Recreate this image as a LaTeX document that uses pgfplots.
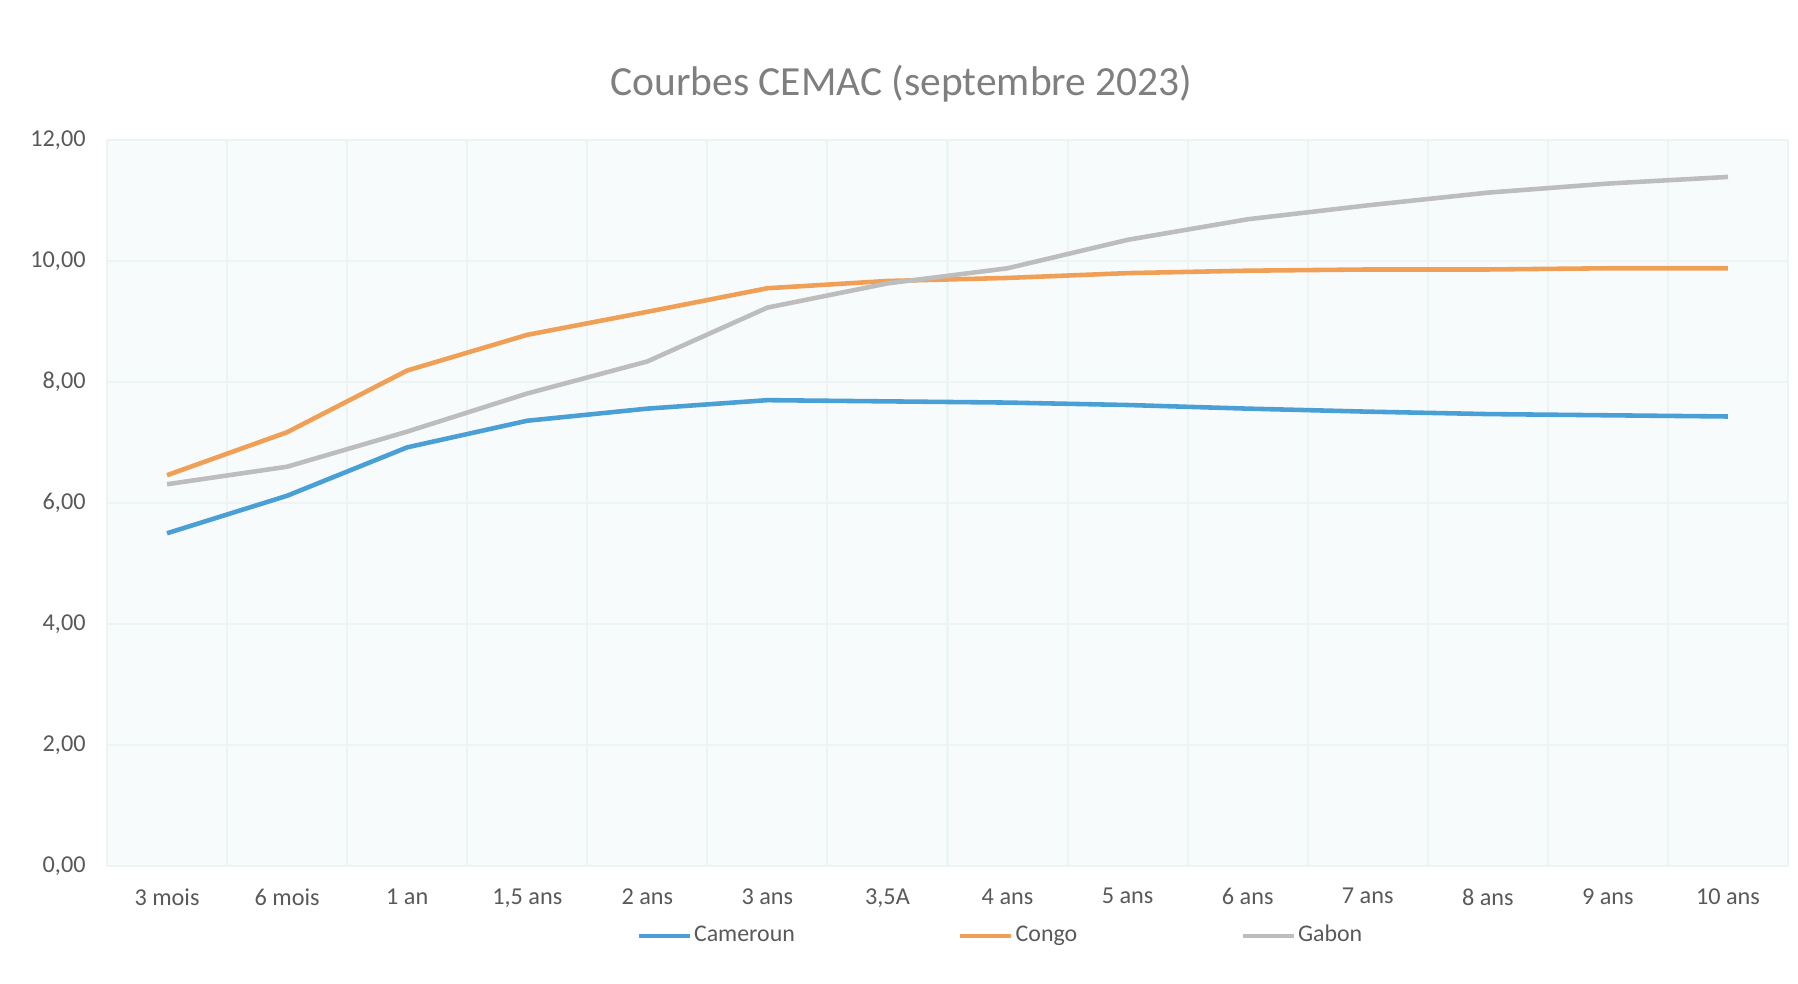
\documentclass[border=0pt]{standalone}
\usepackage{pgfplots}
\pgfplotsset{compat=1.18}
\usepackage{fontspec}
\setmainfont{Carlito}
\definecolor{cblue}{HTML}{4A9FD5}
\definecolor{corange}{HTML}{EFA056}
\definecolor{cgray}{HTML}{BDBDBD}
\definecolor{txtgray}{HTML}{595959}
\definecolor{titlegray}{HTML}{7F7F7F}
\definecolor{gridc}{HTML}{EDF4F4}
\definecolor{bgc}{HTML}{F8FBFB}
\begin{document}
\begin{tikzpicture}
\begin{axis}[
  name=ax,
  scale only axis,
  width=168.1mm, height=72.6mm,
  xmin=-0.5, xmax=13.5,
  ymin=0, ymax=12,
  xtick={0,...,13},
  xticklabels={3 mois,6 mois,1 an,{1,5 ans},2 ans,3 ans,{3,5A},4 ans,5 ans,6 ans,7 ans,8 ans,9 ans,10 ans},
  minor xtick={-0.5,0.5,...,13.5},
  ytick={0,2,...,12},
  yticklabels={{0,00},{2,00},{4,00},{6,00},{8,00},{10,00},{12,00}},
  major tick length=0pt, minor tick length=0pt,
  axis line style={draw=none},
  axis background/.style={fill=bgc},
  ymajorgrids, xminorgrids,
  major grid style={gridc, line width=0.6pt},
  minor grid style={gridc, line width=0.6pt},
  tick label style={font=\fontsize{6.9}{8}\selectfont, text=txtgray},
  xticklabel style={yshift=-1.0mm},
  yticklabel style={xshift=-0.9mm},
  legend columns=3,
  legend style={at={(0.3145,-0.0964)}, anchor=west, draw=none, fill=none, inner sep=0pt,
    font=\fontsize{6.8}{8}\selectfont, text=txtgray,
    nodes={inner xsep=0.6pt},
    /tikz/every even column/.append style={column sep=16.1mm}},
  legend image code/.code={\draw[#1, line width=1.3pt] (0,0) -- (5.1mm,0);},
  clip=false,
]
\addplot[cblue, line width=1.3pt] coordinates {
(0,5.50) (1,6.12) (2,6.92) (3,7.36) (4,7.56) (5,7.70) (6,7.68) (7,7.66) (8,7.62) (9,7.56) (10,7.51) (11,7.47) (12,7.45) (13,7.43)};
\addlegendentry{Cameroun}
\addplot[corange, line width=1.3pt] coordinates {
(0,6.46) (1,7.17) (2,8.19) (3,8.78) (4,9.16) (5,9.55) (6,9.67) (7,9.72) (8,9.80) (9,9.84) (10,9.86) (11,9.86) (12,9.88) (13,9.88)};
\addlegendentry{Congo}
\addplot[cgray, line width=1.3pt] coordinates {
(0,6.31) (1,6.60) (2,7.18) (3,7.81) (4,8.34) (5,9.23) (6,9.63) (7,9.88) (8,10.35) (9,10.69) (10,10.92) (11,11.13) (12,11.28) (13,11.39)};
\addlegendentry{Gabon}
\end{axis}
\node[font=\fontsize{11.8}{14}\selectfont, text=titlegray] at ([xshift=-4.6mm, yshift=5.6mm]ax.north) {Courbes CEMAC (septembre 2023)};
\pgfresetboundingbox
\useasboundingbox ([xshift=-10.7mm, yshift=-11.7mm]ax.south west) rectangle ([xshift=1.0mm, yshift=14.0mm]ax.north east);
\end{tikzpicture}
\end{document}
